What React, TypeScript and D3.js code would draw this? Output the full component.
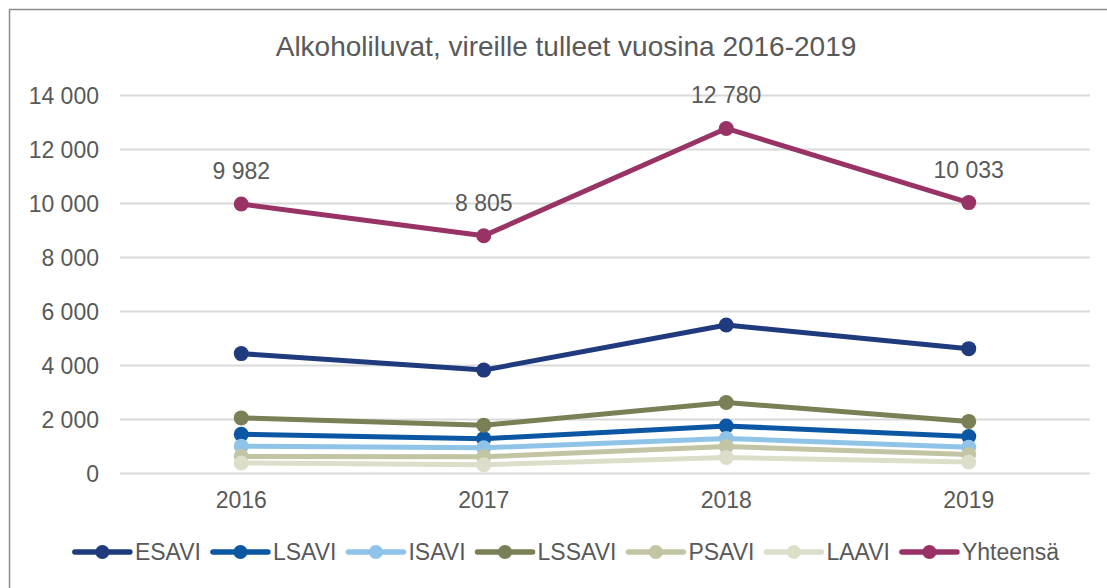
import { useEffect, useRef } from 'react';
import * as d3 from 'd3';

const YEARS = ['2016', '2017', '2018', '2019'];
const SERIES_NAMES = ['ESAVI', 'LSAVI', 'ISAVI', 'LSSAVI', 'PSAVI', 'LAAVI', 'Yhteensä'];
const ESAVI = [4440, 3830, 5500, 4624];
const LSAVI = [1450, 1290, 1760, 1369];
const ISAVI = [1013, 950, 1300, 976];
const LSSAVI = [2060, 1790, 2630, 1930];
const PSAVI = [630, 620, 1000, 708];
const LAAVI = [389, 325, 590, 426];
const YHTEENSA = [9982, 8805, 12780, 10033];
const Y_TICKS = [0, 2000, 4000, 6000, 8000, 10000, 12000, 14000];

const COLORS = ['#203a7e', '#0b57a3', '#8fc3e7', '#7a7f55', '#c2c4a3', '#dcdeca', '#993366'];
const TITLE = 'Alkoholiluvat, vireille tulleet vuosina 2016-2019';

const W = 1107;
const H = 588;
const FONT = '"Liberation Sans", Arial, sans-serif';
const TEXT = '#595959';

const fmt = (v: number) => d3.format(',')(v).replace(/,/g, ' ');

export default function App() {
  const svgRef = useRef<SVGSVGElement>(null);

  useEffect(() => {
    if (!svgRef.current) return;
    const svg = d3.select(svgRef.current);
    svg.selectAll('*').remove();

    const allSeries = [ESAVI, LSAVI, ISAVI, LSSAVI, PSAVI, LAAVI, YHTEENSA];

    // chart frame
    svg.append('rect')
      .attr('x', 9.5).attr('y', 9.5)
      .attr('width', W + 20).attr('height', H + 20)
      .attr('fill', '#fff')
      .attr('stroke', '#8c8c8c')
      .attr('stroke-width', 1.5);

    const x = d3.scaleBand<string>().domain(YEARS).range([120, 1090]);
    const y = d3.scaleLinear().domain([0, 14000]).range([473.5, 95.5]);

    // title
    svg.append('text')
      .attr('x', 566).attr('y', 56)
      .attr('text-anchor', 'middle')
      .style('font-family', FONT).style('font-size', '28px')
      .style('fill', TEXT)
      .text(TITLE);

    // grid
    svg.append('g').selectAll('line')
      .data(Y_TICKS)
      .join('line')
      .attr('x1', 120).attr('x2', 1090)
      .attr('y1', (d) => y(d)).attr('y2', (d) => y(d))
      .attr('stroke', '#d9d9d9').attr('stroke-width', 2);

    // y axis labels
    svg.append('g').selectAll('text')
      .data(Y_TICKS)
      .join('text')
      .attr('x', 99).attr('y', (d) => y(d))
      .attr('dy', '0.35em')
      .attr('text-anchor', 'end')
      .style('font-family', FONT).style('font-size', '23px')
      .style('fill', TEXT)
      .text((d) => fmt(d));

    // x axis labels
    svg.append('g').selectAll('text')
      .data(YEARS)
      .join('text')
      .attr('x', (d) => (x(d) ?? 0) + x.bandwidth() / 2)
      .attr('y', 508)
      .attr('text-anchor', 'middle')
      .style('font-family', FONT).style('font-size', '23px')
      .style('fill', TEXT)
      .text((d) => d);

    const cx = (i: number) => (x(YEARS[i]) ?? 0) + x.bandwidth() / 2;
    const line = d3.line<number>().x((_, i) => cx(i)).y((d) => y(d));

    allSeries.forEach((vals, s) => {
      const g = svg.append('g');
      g.append('path')
        .attr('d', line(vals))
        .attr('fill', 'none')
        .attr('stroke', COLORS[s])
        .attr('stroke-width', 5)
        .attr('stroke-linejoin', 'round');
      g.selectAll('circle')
        .data(vals)
        .join('circle')
        .attr('cx', (_, i) => cx(i))
        .attr('cy', (d) => y(d))
        .attr('r', 7.5)
        .attr('fill', COLORS[s]);
    });

    // data labels for total
    svg.append('g').selectAll('text')
      .data(YHTEENSA)
      .join('text')
      .attr('x', (_, i) => cx(i))
      .attr('y', (d) => y(d) - 25)
      .attr('text-anchor', 'middle')
      .style('font-family', FONT).style('font-size', '23px')
      .style('fill', TEXT)
      .text((d) => fmt(d));

    // legend
    const legend = svg.append('g');
    const symW = 55;
    const gap = 5;
    const itemGap = 12;
    let lx = 0;
    SERIES_NAMES.forEach((name, s) => {
      const item = legend.append('g').attr('transform', `translate(${lx},0)`);
      item.append('line')
        .attr('x1', 0).attr('x2', symW)
        .attr('y1', 0).attr('y2', 0)
        .attr('stroke', COLORS[s]).attr('stroke-width', 5.5)
        .attr('stroke-linecap', 'round');
      item.append('circle')
        .attr('cx', symW / 2).attr('cy', 0).attr('r', 7)
        .attr('fill', COLORS[s]);
      const t = item.append('text')
        .attr('x', symW + gap).attr('y', 0)
        .attr('dy', '0.35em')
        .style('font-family', FONT).style('font-size', '23px')
        .style('fill', TEXT)
        .text(name);
      const tw = (t.node() as SVGTextElement).getComputedTextLength();
      lx += symW + gap + tw + itemGap;
    });
    const total = lx - itemGap;
    legend.attr('transform', `translate(${567 - total / 2},552)`);
  }, []);

  return (
    <svg
      ref={svgRef}
      width={W}
      height={H}
      style={{ position: 'absolute', left: 0, top: 0, background: '#fff' }}
    />
  );
}
